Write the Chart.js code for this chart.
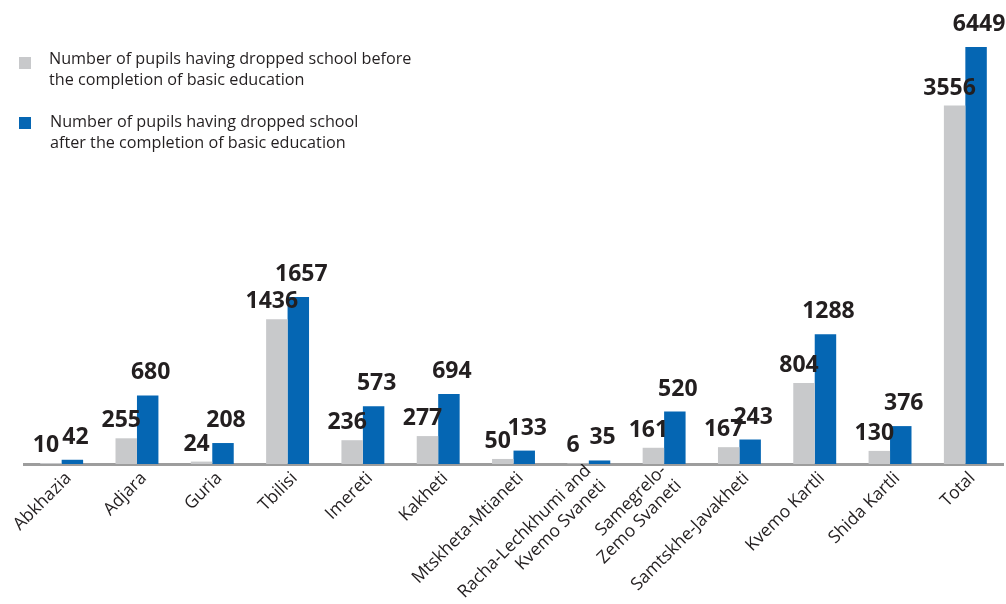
<!DOCTYPE html>
<html>
<head>
<meta charset="utf-8">
<script src="https://cdn.jsdelivr.net/npm/chart.js@4.4.1/dist/chart.umd.min.js"></script>
<style>
  html, body { margin: 0; padding: 0; background: #ffffff; }
  #wrap { position: relative; width: 1006px; height: 604px; }
  #legend { position: absolute; left: 0; top: 0; font-family: "Open Sans", sans-serif; font-size: 16.2px; color: #231f20; line-height: 21px; }
  .item { position: absolute; white-space: nowrap; }
  .swatch { position: absolute; width: 12px; height: 12px; }
</style>
</head>
<body>
<div id="wrap">
  <canvas id="chart" width="1006" height="604"></canvas>
  <div id="legend"></div>
</div>
<script>
// Regions of Georgia and the total
const regions = [
  "Abkhazia", "Adjara", "Guria", "Tbilisi", "Imereti", "Kakheti",
  "Mtskheta-Mtianeti", ["Racha-Lechkhumi and", "Kvemo Svaneti"],
  ["Samegrelo-", "Zemo Svaneti"], "Samtskhe-Javakheti", "Kvemo Kartli",
  "Shida Kartli", "Total"
];

// Pupils who dropped school before completing basic education
const droppedBefore = [10, 255, 24, 1436, 236, 277, 50, 6, 161, 167, 804, 130, 3556];

// Pupils who dropped school after completing basic education
const droppedAfter = [42, 680, 208, 1657, 573, 694, 133, 35, 520, 243, 1288, 376, 6449];

const seriesNames = [
  ["Number of pupils having dropped school before", "the completion of basic education"],
  ["Number of pupils having dropped school", "after the completion of basic education"]
];

const colors = ["#c8c9cb", "#0566b3"];

// Legend (two-line entries)
const legendEl = document.getElementById("legend");
const legendPos = [{ sx: 19, sy: 57, tx: 49, ty: 48 }, { sx: 19, sy: 117, tx: 50, ty: 111 }];
seriesNames.forEach((lines, i) => {
  const sw = document.createElement("div");
  sw.className = "swatch";
  sw.style.left = legendPos[i].sx + "px";
  sw.style.top = legendPos[i].sy + "px";
  sw.style.background = colors[i];
  legendEl.appendChild(sw);
  const t = document.createElement("div");
  t.className = "item";
  t.style.left = legendPos[i].tx + "px";
  t.style.top = legendPos[i].ty + "px";
  t.innerHTML = lines.join("<br>");
  legendEl.appendChild(t);
});

// Centre multi-line category labels on their tick instead of hanging below it
const centerMultiline = {
  id: "centerMultiline",
  beforeDraw(chart) {
    const scale = chart.scales.x;
    const items = scale.getLabelItems();
    items.forEach(item => {
      if (Array.isArray(item.label) && !item._centered) {
        const lh = item.font.lineHeight;
        item.textOffset -= lh * (item.label.length - 1) / 2;
        item._centered = true;
      }
    });
  }
};

// Value labels above each bar
const valueLabels = {
  id: "valueLabels",
  afterDatasetsDraw(chart) {
    const { ctx, chartArea } = chart;
    ctx.save();
    ctx.font = "bold 23px 'Open Sans', sans-serif";
    ctx.fillStyle = "#231f20";
    ctx.textAlign = "center";
    ctx.textBaseline = "alphabetic";
    chart.data.datasets.forEach((ds, di) => {
      const meta = chart.getDatasetMeta(di);
      meta.data.forEach((bar, i) => {
        const top = Math.max(bar.y, chartArea.top);
        const dx = di === 0 ? -5 : 3;
        const dy = di === 0 ? 11 : 16;
        ctx.fillText(String(ds.data[i]), bar.x + dx, top - dy);
      });
    });
    ctx.restore();
  }
};

new Chart(document.getElementById("chart"), {
  type: "bar",
  data: {
    labels: regions,
    datasets: [
      { label: seriesNames[0].join(" "), data: droppedBefore, backgroundColor: colors[0] },
      { label: seriesNames[1].join(" "), data: droppedAfter, backgroundColor: colors[1] }
    ]
  },
  options: {
    responsive: false,
    animation: false,
    layout: { padding: { top: 47, right: 0, left: 0, bottom: 0 } },
    datasets: { bar: { categoryPercentage: 0.57, barPercentage: 1.0 } },
    plugins: { legend: { display: false }, tooltip: { enabled: false } },
    scales: {
      x: {
        grid: { display: false },
        border: { display: true, color: "#9d9d9d", width: 3 },
        ticks: {
          minRotation: 45, maxRotation: 45,
          color: "#231f20",
          font: { family: "'Open Sans', sans-serif", size: 17.5 },
          padding: -4,
          labelOffset: 7
        },
        afterFit(scale) {
          scale.height = 140;
          scale.paddingLeft = 24;
          scale.paddingRight = 3;
        }
      },
      y: {
        display: false,
        min: 0,
        max: 4137
      }
    }
  },
  plugins: [centerMultiline, valueLabels]
});
</script>
</body>
</html>
